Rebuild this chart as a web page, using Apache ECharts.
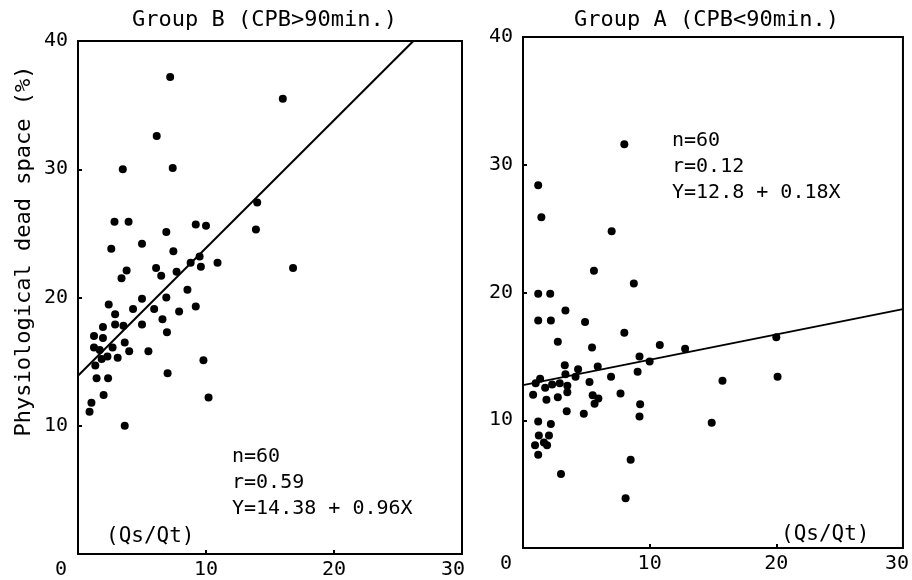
<!DOCTYPE html>
<html>
<head>
<meta charset="utf-8">
<script src="https://cdn.jsdelivr.net/npm/echarts@6/dist/echarts.min.js"></script>
<style>html,body{margin:0;padding:0;background:#fff;}#c{width:912px;height:580px;}</style>
</head>
<body>
<div id="c"></div>
<script>
// ---- Data ----
var titleB = 'Group B (CPB>90min.)';
var titleA = 'Group A (CPB<90min.)';
var yAxisName = 'Physiological dead space (%)';
var xAxisName = '(Qs/Qt)';
var xTicks = [0, 10, 20, 30];
var yTicks = [0, 10, 20, 30, 40];

// Group B: [Qs/Qt, dead space %]
var groupB = [
  [7.2,37.2],[16.0,35.5],[6.15,32.6],[3.5,30.0],[7.4,30.1],[14.0,27.4],[13.9,25.3],
  [2.85,25.9],[3.95,25.9],[9.2,25.7],[10.0,25.6],[6.9,25.1],[2.6,23.8],[5.0,24.2],
  [7.45,23.6],[9.5,23.2],[8.8,22.7],[9.6,22.4],[10.9,22.7],[16.8,22.3],[3.8,22.1],
  [3.4,21.5],[6.1,22.3],[6.5,21.7],[7.7,22.0],[8.55,20.6],[5.0,19.9],[6.9,20.0],
  [2.4,19.45],[2.9,18.7],[4.3,19.1],[5.95,19.1],[9.2,19.3],[7.9,18.9],[1.95,17.7],
  [2.9,17.9],[3.55,17.8],[5.0,17.9],[6.6,18.3],[1.25,17.0],[1.95,16.85],[6.95,17.3],
  [1.25,16.1],[3.65,16.5],[2.7,16.1],[1.7,15.9],[4.0,15.8],[5.5,15.8],[2.3,15.4],
  [3.1,15.3],[1.85,15.2],[1.35,14.7],[9.8,15.1],[7.0,14.1],[1.45,13.7],[2.35,13.7],
  [2.0,12.4],[10.2,12.2],[1.05,11.8],[0.9,11.1],[3.65,10.0]
];
// Group A: [Qs/Qt, dead space %]
var groupA = [
  [8.0,31.6],[1.2,28.4],[1.45,25.9],[7.0,24.8],[5.6,21.7],[8.75,20.7],[1.2,19.9],
  [2.15,19.9],[1.2,17.8],[2.2,17.8],[3.35,18.6],[4.9,17.7],[8.0,16.85],[2.75,16.15],
  [10.8,15.9],[12.8,15.6],[20.0,16.5],[5.45,15.7],[9.2,15.0],[10.0,14.6],[3.3,14.3],
  [4.35,14.0],[5.9,14.2],[9.05,13.8],[6.95,13.4],[3.35,13.6],[4.15,13.4],[1.35,13.25],
  [1.0,12.9],[1.75,12.55],[2.3,12.8],[2.9,12.9],[3.5,12.7],[5.25,13.0],[15.75,13.1],
  [20.1,13.4],[0.8,12.0],[3.5,12.2],[1.85,11.6],[2.75,11.8],[5.5,11.95],[5.95,11.7],
  [7.7,12.1],[5.65,11.3],[9.25,11.25],[3.45,10.7],[4.8,10.5],[9.2,10.3],[1.2,9.9],
  [2.2,9.7],[14.9,9.8],[1.25,8.8],[2.05,8.8],[0.95,8.05],[1.9,8.05],[1.2,7.3],
  [1.65,8.25],[3.0,5.8],[8.5,6.9],[8.1,3.9]
];
// Regression line end points as drawn
var fitB = [[0,13.9],[26.2,40]];
var fitA = [[0,12.75],[30,18.7]];
var statsB = ['n=60', 'r=0.59', 'Y=14.38 + 0.96X'];
var statsA = ['n=60', 'r=0.12', 'Y=12.8 + 0.18X'];

// ---- Chart ----
var FONT = '"DejaVu Sans Mono", monospace';
var chart = echarts.init(document.getElementById('c'));

function xAxis(gi, shifts) {
  return {
    gridIndex: gi, type: 'value', min: 0, max: 30, interval: 10,
    axisLine: {show: true, lineStyle: {color: '#000', width: 2}},
    axisTick: {show: true, inside: true, length: 4, lineStyle: {color: '#000', width: 2}},
    splitLine: {show: false},
    axisLabel: {
      color: '#000', fontFamily: FONT, fontSize: 20, margin: 6,
      formatter: function (v) { return '{' + (shifts[v] || 'n') + '|' + v + '}'; },
      rich: {
        n: {fontFamily: FONT, fontSize: 20, color: '#000'},
        s0: {fontFamily: FONT, fontSize: 20, color: '#000', padding: [0, 34, 0, 0]},
        s30: {fontFamily: FONT, fontSize: 20, color: '#000', padding: [0, 18, 0, 0]},
        s30b: {fontFamily: FONT, fontSize: 20, color: '#000', padding: [0, 12, 0, 0]}
      }
    }
  };
}
function yAxis(gi) {
  return {
    gridIndex: gi, type: 'value', min: 0, max: 40, interval: 10,
    axisLine: {show: true, lineStyle: {color: '#000', width: 2}},
    axisTick: {show: true, inside: true, length: 4, lineStyle: {color: '#000', width: 2}},
    splitLine: {show: false},
    axisLabel: {
      color: '#000', fontFamily: FONT, fontSize: 20, margin: 10,
      formatter: function (v) { return v === 0 ? '' : String(v); }
    }
  };
}

function statText(lines, x, y0) {
  return lines.map(function (t, i) {
    return {type: 'text', left: x, top: y0 + i * 26,
      style: {text: t, fill: '#000', font: '20px ' + FONT}};
  });
}

var graphics = [
  {type: 'text', left: 132, top: 9, style: {text: titleB, fill: '#000', font: '22px ' + FONT}},
  {type: 'text', left: 574, top: 9, style: {text: titleA, fill: '#000', font: '22px ' + FONT}},
  {type: 'text', x: 24, y: 251, rotation: Math.PI / 2,
    style: {text: yAxisName, fill: '#000', font: '22px ' + FONT, align: 'center', verticalAlign: 'middle'}},
  {type: 'text', left: 106, top: 526, style: {text: xAxisName, fill: '#000', font: '21px ' + FONT}},
  {type: 'text', left: 781, top: 524, style: {text: xAxisName, fill: '#000', font: '21px ' + FONT}}
].concat(statText(statsB, 232, 447)).concat(statText(statsA, 672, 131));

var option = {
  backgroundColor: '#fff',
  animation: false,
  grid: [
    {left: 78, top: 41, width: 384, height: 513, show: true, borderColor: '#000', borderWidth: 2},
    {left: 523, top: 37, width: 381, height: 511, show: true, borderColor: '#000', borderWidth: 2}
  ],
  xAxis: [xAxis(0, {0: 's0', 30: 's30'}), xAxis(1, {0: 's0', 30: 's30b'})],
  yAxis: [yAxis(0), yAxis(1)],
  graphic: graphics,
  series: [
    {type: 'scatter', xAxisIndex: 0, yAxisIndex: 0, data: groupB, symbolSize: 8,
      itemStyle: {color: '#000', opacity: 1}},
    {type: 'scatter', xAxisIndex: 1, yAxisIndex: 1, data: groupA, symbolSize: 8,
      itemStyle: {color: '#000', opacity: 1}},
    {type: 'line', xAxisIndex: 0, yAxisIndex: 0, data: fitB, symbol: 'none',
      lineStyle: {color: '#000', width: 2}},
    {type: 'line', xAxisIndex: 1, yAxisIndex: 1, data: fitA, symbol: 'none',
      lineStyle: {color: '#000', width: 2}}
  ]
};
chart.setOption(option);
</script>
</body>
</html>
